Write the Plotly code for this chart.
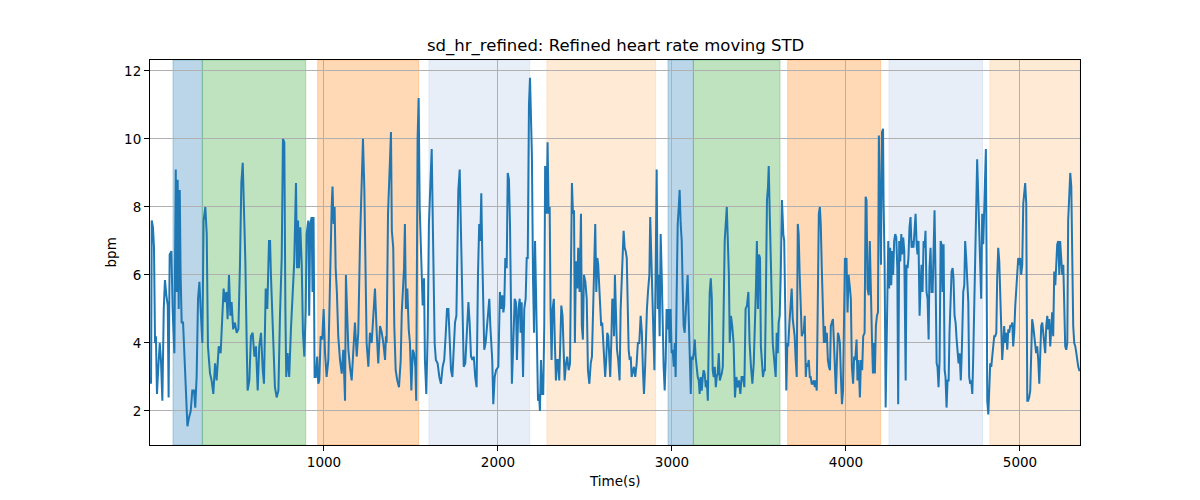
import plotly.graph_objects as go

# time (s) and refined HR moving STD (bpm)
t_s = [3, 6, 10, 17, 23, 29, 34, 40, 48, 56, 63, 71, 79, 86, 94, 102, 107, 113, 123, 130, 140, 148, 153, 159, 165, 171, 176, 182, 190, 197, 205, 215, 224, 234, 243, 253, 260, 268, 276, 284, 291, 301, 308, 318, 326, 333, 345, 354, 364, 374, 383, 395, 406, 416, 423, 431, 439, 446, 454, 462, 469, 478, 488, 498, 508, 517, 525, 533, 540, 548, 556, 561, 571, 580, 590, 600, 609, 619, 628, 638, 648, 655, 665, 674, 684, 690,
       695, 701, 709, 718, 728, 738, 747, 757, 764, 772, 778, 783, 791, 800, 810, 820, 829, 839, 845, 851, 856, 864, 872, 879, 887, 895, 900, 910, 915, 921, 929, 934, 940, 946, 953, 961, 967, 973, 981, 990, 998, 1006, 1015, 1025, 1034, 1044, 1049, 1055, 1061, 1067, 1074, 1082, 1092, 1102, 1111, 1121, 1126, 1132, 1140, 1149, 1159, 1169, 1178, 1188, 1197, 1207, 1217, 1224, 1232, 1240, 1245, 1255, 1264, 1274, 1284, 1293, 1303, 1312, 1322, 1332, 1341, 1351,
       1356, 1360, 1368, 1375, 1385, 1390, 1398, 1404, 1412, 1421, 1431, 1441, 1447, 1456, 1460, 1465, 1471, 1479, 1487, 1494, 1502, 1510, 1517, 1525, 1530, 1538, 1544, 1550, 1556, 1561, 1567, 1575, 1580, 1588, 1596, 1603, 1611, 1619, 1624, 1630, 1636, 1643, 1653, 1663, 1672, 1682, 1691, 1699, 1707, 1715, 1722, 1730, 1738, 1745, 1753, 1761, 1767, 1772, 1780, 1785, 1791, 1797, 1803, 1812, 1822, 1830, 1837, 1845, 1853, 1861, 1869, 1877, 1885, 1892, 1898, 1904, 1910, 1915, 1921, 1929, 1937, 1944, 1950, 1956, 1961, 1967, 1973, 1981, 1989,
       2002, 2011, 2019, 2025, 2031, 2036, 2042, 2050, 2056, 2063, 2069, 2075, 2080, 2088, 2096, 2103, 2109, 2117, 2125, 2130, 2136, 2144, 2151, 2159, 2165, 2171, 2178, 2184, 2190, 2195, 2201, 2207, 2213, 2218, 2224, 2230, 2236, 2241, 2247, 2254, 2260, 2266, 2271, 2279, 2285, 2291, 2297, 2302, 2308, 2314, 2321, 2327, 2333, 2341, 2346, 2352, 2358, 2364, 2371, 2377, 2383, 2391, 2398, 2406, 2414, 2419, 2425, 2431, 2437, 2442, 2448, 2456, 2461, 2469, 2477, 2482, 2488, 2494, 2502, 2510, 2517, 2525, 2533, 2540, 2548, 2553, 2559, 2565, 2571, 2576, 2582, 2588, 2593, 2599, 2605, 2611, 2616, 2622, 2628, 2634, 2639, 2645, 2651, 2657,
       2663, 2667, 2672, 2678, 2684, 2691, 2699, 2705, 2711, 2717, 2722, 2728, 2734, 2740, 2745, 2751, 2757, 2763, 2768, 2774, 2781, 2789, 2797, 2804, 2812, 2820, 2827, 2833, 2839, 2845, 2850, 2856, 2862, 2870, 2875, 2881, 2887, 2893, 2899, 2906, 2912, 2918, 2923, 2929, 2935, 2941, 2946, 2952, 2958, 2964, 2969, 2975, 2981, 2987, 2992, 2998, 3004, 3010, 3016, 3021, 3027, 3033, 3039, 3044, 3050, 3056, 3062, 3067, 3073, 3079, 3085, 3090, 3096, 3102, 3108, 3113, 3119, 3125, 3131, 3136, 3142, 3148, 3154, 3159, 3165, 3171, 3177, 3182, 3188, 3194, 3200, 3206, 3211, 3217, 3223, 3229, 3234, 3240, 3246, 3252, 3257, 3263, 3269, 3275, 3280, 3286, 3292, 3298, 3303, 3309, 3315, 3321, 3327, 3332,
       3339, 3346, 3354, 3362, 3370, 3377, 3385, 3393, 3400, 3408, 3416, 3423, 3431, 3439, 3446, 3454, 3462, 3470, 3477, 3483, 3488, 3494, 3500, 3506, 3511, 3517, 3523, 3529, 3534, 3540, 3546, 3552, 3556, 3561, 3567, 3573, 3579, 3584, 3590, 3596, 3602, 3608, 3613, 3619, 3625, 3632, 3640, 3645, 3651, 3657, 3663, 3668, 3674, 3682, 3688, 3694, 3699, 3705, 3711, 3717, 3723, 3728, 3734, 3740, 3746, 3751, 3757, 3763, 3769, 3774, 3780, 3786, 3792, 3797, 3803, 3809, 3815, 3821, 3826, 3832, 3838, 3844, 3850, 3855, 3861, 3867, 3873, 3879, 3884, 3890, 3896, 3902, 3908, 3913, 3919, 3925, 3931, 3936, 3942, 3948, 3954, 3959, 3965, 3971, 3977, 3983, 3988, 3994,
       3998, 4003, 4009, 4015, 4023, 4028, 4034, 4041, 4047, 4053, 4061, 4066, 4072, 4080, 4086, 4093, 4099, 4107, 4113, 4118, 4124, 4131, 4137, 4143, 4149, 4155, 4161, 4166, 4172, 4178, 4184, 4189, 4195, 4201, 4207, 4213, 4216, 4222, 4228, 4235, 4243, 4248, 4254, 4260, 4266, 4271, 4277, 4283, 4289, 4295, 4300, 4306, 4312, 4318, 4323, 4329, 4335, 4343, 4348, 4354, 4359, 4365, 4371, 4377, 4383, 4388, 4394, 4400, 4406, 4411, 4417, 4423, 4429, 4434, 4440, 4446, 4452, 4457, 4463, 4469, 4475, 4480, 4486, 4492, 4498, 4503, 4509, 4515, 4521, 4526, 4532, 4538, 4544, 4549, 4555, 4561, 4567, 4572, 4578, 4584, 4590, 4595, 4601, 4607, 4613, 4618, 4624, 4630, 4636, 4641, 4647, 4653,
       4660, 4666, 4674, 4680, 4685, 4691, 4697, 4703, 4708, 4714, 4720, 4726, 4731, 4737, 4743, 4749, 4754, 4760, 4766, 4772, 4777, 4783, 4789, 4795, 4800, 4804, 4808, 4812, 4818, 4823, 4829, 4835, 4841, 4846, 4852, 4858, 4864, 4869, 4875, 4881, 4887, 4892, 4898, 4904, 4909, 4915, 4921, 4927, 4933, 4938, 4944, 4950, 4956, 4961, 4967, 4973, 4979, 4984, 4990, 4996, 5001, 5007, 5013, 5019, 5025, 5030, 5036, 5042, 5047, 5053, 5059, 5065, 5070, 5076, 5082, 5088, 5093, 5099, 5105, 5111, 5116, 5122, 5128, 5134, 5139, 5145, 5151, 5157, 5162, 5168, 5174, 5180, 5185, 5191, 5197, 5203, 5208, 5214, 5220, 5226, 5231, 5237, 5243, 5249, 5254, 5260, 5266, 5272, 5277, 5283, 5289, 5295, 5300, 5306, 5312, 5318, 5324, 5329, 5335, 5341, 5345]

sd_hr = [3.0, 2.8, 7.6, 7.4, 6.8, 4.0, 4.2, 2.5, 3.3, 4.0, 3.5, 2.3, 5.0, 5.85, 5.4, 5.1, 2.4, 6.6, 6.7, 5.0, 3.7, 9.1, 5.5, 8.8, 5.0, 8.5, 6.0, 4.6, 4.6, 3.8, 3.0, 1.55, 1.8, 2.0, 2.6, 2.6, 2.1, 3.0, 5.3, 5.8, 5.0, 4.0, 7.6, 8.0, 7.2, 3.9, 3.1, 2.9, 2.5, 3.4, 2.9, 3.9, 3.7, 4.8, 5.6, 5.2, 5.5, 4.7, 6.0, 4.8, 5.2, 4.4, 4.6, 4.3, 4.4, 6.3, 8.7, 9.3, 8.0, 6.4, 3.9, 2.6, 2.9, 4.2, 4.3, 3.6, 3.9, 2.6, 3.9, 4.3, 3.2, 2.8, 5.6, 5.0, 7.0, 7.0,
         6.0, 5.0, 3.5, 2.7, 2.4, 2.6, 4.8, 6.5, 10.0, 9.9, 5.0, 3.0, 3.7, 3.0, 4.4, 5.6, 6.4, 8.7, 6.2, 7.6, 6.2, 7.4, 6.3, 4.3, 3.6, 5.0, 7.2, 7.6, 4.8, 7.5, 7.7, 5.5, 7.7, 3.0, 3.0, 3.6, 2.8, 2.9, 4.2, 4.1, 5.0, 3.7, 3.0, 3.5, 6.0, 8.0, 8.6, 7.5, 8.0, 6.2, 5.5, 4.2, 3.5, 3.1, 3.8, 2.3, 6.0, 5.0, 3.8, 3.3, 2.9, 3.8, 4.6, 3.6, 4.3, 7.0, 8.5, 10.0, 8.5, 6.0, 4.0, 3.3, 4.3, 4.0, 5.0, 5.6, 4.3, 3.4, 4.5, 4.3, 4.0, 3.5,
         4.2, 4.0, 7.8, 8.6, 10.2, 7.3, 6.8, 4.5, 3.2, 2.9, 2.7, 3.5, 4.9, 5.8, 6.2, 7.5, 5.0, 5.6, 4.4, 4.0, 2.6, 3.8, 3.7, 3.3, 2.3, 10.0, 11.2, 8.0, 6.8, 5.6, 5.1, 5.9, 3.5, 2.5, 4.3, 7.5, 8.6, 9.7, 8.0, 6.0, 4.0, 3.5, 3.4, 3.0, 2.8, 3.3, 3.5, 4.2, 5.0, 5.0, 4.0, 3.2, 3.0, 3.9, 4.6, 4.8, 6.6, 8.5, 9.1, 8.0, 6.5, 4.5, 3.3, 3.4, 4.5, 5.2, 4.6, 3.6, 3.5, 3.6, 3.0, 2.7, 6.0, 7.5, 7.0, 8.4, 6.5, 5.0, 3.8, 4.0, 4.6, 5.0, 5.3, 4.5, 4.0, 3.5, 2.2, 3.0, 3.2,
         3.3, 5.5, 5.0, 5.4, 4.9, 5.1, 6.5, 6.2, 9.0, 8.8, 7.5, 5.0, 2.8, 4.0, 5.3, 5.2, 3.5, 5.0, 5.3, 4.3, 5.2, 3.0, 5.0, 5.3, 6.5, 6.5, 11.0, 11.8, 10.2, 9.5, 6.0, 4.3, 7.0, 6.0, 4.0, 2.3, 2.5, 2.0, 3.5, 2.5, 2.5, 4.5, 9.2, 7.8, 9.9, 7.8, 8.0, 5.0, 3.5, 5.0, 5.3, 4.0, 2.9, 3.5, 3.5, 2.9, 4.5, 5.1, 4.8, 3.5, 2.9, 3.4, 3.6, 3.2, 3.4, 6.0, 8.7, 7.8, 7.9, 4.0, 6.4, 5.6, 6.8, 5.5, 7.8, 4.5, 4.1, 6.0, 5.8, 5.3, 3.2, 2.8, 3.4, 3.6, 5.0, 6.0, 7.5, 5.5, 6.5, 6.3, 5.5, 4.8, 4.5, 4.6, 4.0, 3.7, 3.0, 3.5, 4.3, 4.2, 3.7, 3.0, 4.0, 5.3,
         5.2, 4.2, 6.0, 4.5, 3.8, 3.5, 2.9, 5.0, 6.0, 6.5, 7.3, 6.8, 6.7, 6.5, 5.0, 3.8, 3.5, 3.6, 3.0, 3.2, 3.3, 3.0, 3.4, 4.0, 4.0, 4.8, 4.3, 3.2, 2.5, 3.2, 4.2, 5.0, 5.5, 6.0, 7.7, 6.5, 5.5, 4.5, 3.2, 6.0, 9.1, 5.0, 6.0, 4.2, 7.2, 6.0, 4.0, 3.3, 2.6, 3.5, 5.0, 4.4, 5.0, 4.0, 5.0, 3.7, 3.8, 3.3, 4.0, 3.0, 5.5, 7.5, 8.0, 8.5, 7.5, 7.0, 5.5, 4.5, 4.3, 5.0, 5.5, 6.0, 4.8, 3.8, 2.5, 3.6, 3.5, 3.7, 4.1, 3.6, 3.2, 3.0, 2.9, 2.5, 3.0, 2.6, 3.0, 3.2, 3.1, 2.7, 2.9, 2.3, 4.0, 5.5, 5.9, 5.3, 3.2, 3.0, 3.3, 2.7, 3.0, 3.1, 3.7, 2.9, 3.0, 3.1, 3.3, 5.5, 7.0, 7.5, 8.0, 7.0, 6.0, 4.0,
         4.8, 4.5, 4.0, 2.4, 3.0, 2.7, 2.9, 2.5, 3.0, 3.0, 2.7, 5.0, 5.1, 5.5, 4.0, 3.3, 2.8, 3.4, 4.5, 5.7, 7.0, 5.0, 6.6, 6.5, 3.9, 3.5, 3.0, 3.2, 3.2, 5.5, 8.2, 8.6, 9.2, 8.0, 6.5, 4.5, 4.0, 3.7, 3.2, 3.0, 4.3, 3.7, 4.6, 4.8, 6.0, 8.2, 7.2, 7.0, 5.0, 2.6, 4.0, 3.9, 4.5, 5.0, 5.6, 4.7, 4.5, 4.2, 3.5, 3.0, 7.5, 7.2, 6.0, 5.0, 4.2, 4.3, 4.3, 4.8, 3.0, 3.4, 3.3, 3.5, 3.0, 3.0, 2.8, 2.8, 2.9, 2.7, 2.9, 2.6, 6.5, 7.8, 8.0, 7.5, 6.2, 4.5, 4.0, 4.5, 4.0, 4.3, 3.5, 3.3, 3.2, 4.5, 4.6, 4.7, 4.0, 3.5, 2.5, 3.5, 4.3, 4.2, 4.0, 3.0, 2.2, 2.6, 5.0, 6.5,
         6.2, 6.5, 4.9, 6.0, 5.6, 5.3, 3.3, 2.8, 3.6, 3.5, 4.1, 2.9, 3.5, 2.4, 3.5, 3.2, 4.2, 4.3, 8.3, 8.2, 5.6, 5.4, 7.0, 4.9, 4.2, 3.1, 4.0, 3.1, 4.5, 4.8, 4.9, 10.1, 7.6, 6.3, 10.2, 10.3, 8.2, 6.3, 2.1, 4.0, 7.0, 5.6, 6.8, 5.7, 6.7, 6.0, 7.0, 7.2, 7.1, 6.2, 2.2, 7.0, 6.4, 7.2, 6.6, 7.1, 6.7, 2.9, 6.3, 6.2, 6.5, 7.4, 7.7, 6.8, 7.0, 6.8, 7.2, 7.8, 6.9, 6.6, 7.0, 4.8, 5.7, 6.3, 5.5, 7.0, 6.8, 7.3, 5.5, 5.3, 4.1, 6.2, 6.8, 5.5, 5.5, 6.7, 7.9, 5.9, 3.4, 3.3, 2.7, 3.5, 7.0, 6.9, 5.5, 6.9, 3.2, 3.0, 2.1, 2.9, 2.9, 4.3, 5.5, 6.1, 6.2, 5.9, 4.8, 4.6, 4.1, 3.7, 3.4, 3.7,
         2.9, 3.8, 5.5, 5.7, 7.0, 6.5, 5.5, 5.2, 3.0, 2.8, 2.9, 2.5, 3.5, 5.5, 7.5, 8.1, 9.4, 8.4, 7.4, 6.2, 5.3, 7.8, 6.9, 8.0, 9.6, 9.7, 6.5, 2.3, 1.9, 3.0, 3.4, 3.3, 3.6, 3.9, 4.2, 4.2, 4.3, 5.9, 6.8, 6.4, 5.5, 4.2, 3.5, 4.0, 4.5, 4.0, 4.3, 3.8, 4.4, 4.3, 4.5, 4.5, 4.6, 3.9, 4.3, 5.1, 5.7, 6.0, 6.5, 6.3, 6.5, 6.0, 6.3, 8.1, 8.6, 8.7, 8.1, 2.3, 2.3, 2.4, 2.6, 3.8, 4.7, 4.5, 4.2, 4.1, 3.7, 3.9, 3.5, 2.8, 3.5, 4.5, 4.6, 4.3, 3.9, 3.7, 4.5, 4.8, 4.4, 4.7, 3.9, 4.7, 4.9, 4.2, 6.1, 5.7, 6.3, 6.9, 7.0, 6.0, 7.0, 6.4, 6.0, 6.3, 4.5, 3.9, 3.8, 4.0, 7.6, 8.4, 9.0, 8.6, 6.5, 4.5, 4.0, 3.9, 3.7, 3.5, 3.3, 3.2, 3.2]

# shaded phases: start, end, colour
phase_start = [132, 301, 964, 1603, 2281, 2977, 3123, 3665, 4247, 4827]
phase_end = [301, 895, 1544, 2182, 2906, 3123, 3621, 4199, 4785, 5345]
phase_rgb = ["31,119,180", "44,160,44", "255,127,14", "174,199,232", "255,187,120",
             "31,119,180", "44,160,44", "255,127,14", "174,199,232", "255,187,120"]

x_ticks = [1000, 2000, 3000, 4000, 5000]
y_ticks = [2, 4, 6, 8, 10, 12]

FONT = "DejaVu Sans, Liberation Sans, sans-serif"

fig = go.Figure()
fig.add_trace(go.Scatter(x=t_s, y=sd_hr, mode="lines",
                         line=dict(color="#1f77b4", width=2), showlegend=False,
                         hoverinfo="skip"))

for s, e, c in zip(phase_start, phase_end, phase_rgb):
    fig.add_shape(type="rect", xref="x", yref="paper", x0=s, x1=e, y0=0, y1=1,
                  fillcolor=f"rgba({c},0.3)", line=dict(color=f"rgba({c},0.3)", width=1),
                  layer="below")

axis_common = dict(showline=True, linecolor="black", linewidth=1, mirror=True,
                   ticks="outside", ticklen=5, tickwidth=1, tickcolor="black",
                   showgrid=True, gridcolor="#b0b0b0", gridwidth=1, zeroline=False,
                   tickfont=dict(family=FONT, size=13.5, color="black"))

fig.update_layout(
    width=1200, height=500,
    margin=dict(l=142, r=128, t=52, b=63),
    paper_bgcolor="white", plot_bgcolor="white",
    font=dict(family=FONT, color="black"),
    xaxis=dict(range=[0, 5345], tickvals=x_ticks, **axis_common),
    yaxis=dict(range=[1.0, 12.32], tickvals=y_ticks, **axis_common),
    annotations=[
        dict(text="sd_hr_refined: Refined heart rate moving STD", xref="paper", yref="paper",
             x=0.5, y=1.036, xanchor="center", yanchor="middle", showarrow=False,
             font=dict(family=FONT, size=16.5, color="black")),
        dict(text="Time(s)", xref="paper", yref="paper", x=0.5, y=-0.0935,
             xanchor="center", yanchor="middle", showarrow=False,
             font=dict(family=FONT, size=13.5, color="black")),
        dict(text="bpm", xref="paper", yref="paper", x=-0.043, y=0.5, textangle=-90,
             xanchor="center", yanchor="middle", showarrow=False,
             font=dict(family=FONT, size=13.5, color="black")),
    ],
)

fig.write_html("out.html")
